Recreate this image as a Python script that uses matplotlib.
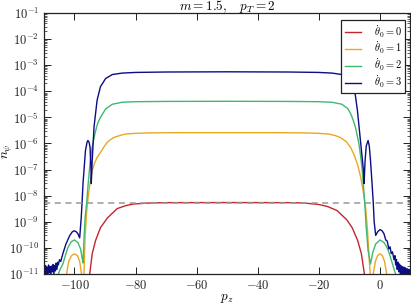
import matplotlib
matplotlib.use("Agg")
import matplotlib.pyplot as plt
from matplotlib.ticker import LogLocator, FixedLocator

plt.rcParams["font.family"] = "serif"
plt.rcParams["font.serif"] = ["cmr10", "DejaVu Serif"]
plt.rcParams["mathtext.fontset"] = "cm"
plt.rcParams["axes.formatter.use_mathtext"] = True
plt.rcParams["font.size"] = 9

# --- data (p_z, n_psi) ---
pz_red = [-95.6, -95.0, -94.2, -93.1, -91.5, -89.2, -86.0, -83.0, -80.6, -75.0, -70.0, -50.0,
          -30.0, -25.0, -20.0, -17.0, -14.0, -10.8, -9.0, -7.2, -6.0, -5.0, -4.4]
n_red = [1e-12, 1e-11, 5.9e-11, 1.9e-10, 5.9e-10, 1.4e-9, 3.2e-9, 4.2e-9, 4.8e-9, 5.25e-9, 5.4e-9, 5.45e-9,
         5.4e-9, 5.25e-9, 4.6e-9, 3.8e-9, 2.7e-9, 1.2e-9, 5.9e-10, 1.9e-10, 6e-11, 1e-11, 1e-12]

pz_orange = [-103.2, -102.6, -101.9, -101.0, -100.0, -99.0, -98.3, -97.7, -97.3,
             -97.1, -96.9, -96.5, -96.0, -95.5, -95.0, -94.2, -93.4, -92.6, -91.5, -90.5, -89.3,
             -88.2, -87.1, -85.0, -83.3, -80.0, -75.0, -65.0, -50.0, -35.0, -25.0, -20.0, -16.7,
             -14.5, -12.9, -11.0, -9.5, -8.3, -7.2, -6.2, -5.4, -4.6, -4.0, -3.5, -3.1, -2.9,
             -2.4, -2.1, -1.4, -0.7, 0.1, 0.9, 1.6, 2.3, 2.7]
n_orange = [1e-13, 1e-11, 3e-11, 5e-11, 5.9e-11, 5e-11, 3e-11, 1e-11, 1e-13,
            1e-13, 1e-11, 3e-10, 2.5e-9, 9e-9, 2.5e-8, 9e-8, 1.8e-7, 2.9e-7, 4.5e-7, 7e-7, 1.1e-6,
            1.4e-6, 1.7e-6, 2.05e-6, 2.3e-6, 2.45e-6, 2.55e-6, 2.6e-6, 2.6e-6, 2.6e-6, 2.55e-6, 2.45e-6, 2.3e-6,
            2.0e-6, 1.7e-6, 1.2e-6, 7e-7, 3.5e-7, 1.5e-7, 5e-8, 1.5e-8, 3.5e-9, 5e-10, 5e-11, 1e-11, 1e-13,
            1e-13, 1e-11, 3e-11, 5e-11, 5.9e-11, 5e-11, 3e-11, 1e-11, 1e-13]

pz_green = [-105.8, -105.3, -104.6, -103.8, -103.0, -102.2, -101.1, -100.0, -98.9, -98.0, -97.5, -97.2,
            -96.9, -96.5, -96.0, -95.5, -94.9, -94.3, -93.2, -92.4, -91.5, -89.8, -87.6, -84.4, -80.0,
            -70.0, -50.0, -30.0, -20.0, -15.6, -12.4, -10.5, -9.5, -8.7, -7.9, -6.8, -6.2, -5.7, -4.9,
            -4.4, -3.8, -3.0, -2.2, -1.3, 0.1, 1.4, 2.3, 3.1, 4.2, 5.2, 5.8]
n_green = [5e-12, 1e-11, 1.6e-11, 2.4e-11, 5e-11, 1e-10, 1.7e-10, 2e-10, 1.6e-10, 9e-11, 4e-11, 2.6e-11,
           2e-10, 1.5e-9, 5.5e-9, 3e-8, 1.8e-7, 6.4e-7, 2.7e-6, 6e-6, 1e-5, 2.1e-5, 3.2e-5, 3.8e-5, 4.0e-5,
           4.1e-5, 4.15e-5, 4.1e-5, 4.0e-5, 3.8e-5, 3.2e-5, 2.2e-5, 1.4e-5, 8e-6, 4e-6, 1e-6, 3e-7, 9e-8, 5.5e-9,
           6e-10, 8e-11, 2.4e-11, 7e-11, 1.4e-10, 2e-10, 1.6e-10, 1.1e-10, 6.4e-11, 2.4e-11, 1e-11, 5e-12]

pz_blue = [-110.0, -109.75, -109.5, -109.25, -109.0, -108.75, -108.5, -108.25, -108.0, -107.75,
           -107.5, -107.25, -107.0, -106.75, -106.5, -106.25, -106.0, -105.75, -105.5,
           -105.3, -104.9, -104.5, -103.8, -102.8, -101.6, -100.8, -100.2, -99.5, -98.9, -98.3,
           -97.8, -97.5, -97.2, -96.9, -96.4, -95.9, -95.6, -95.2, -94.9, -94.6, -94.5, -94.2,
           -93.6, -92.6, -91.5, -89.8, -87.6, -84.4, -80.0, -70.0, -50.0, -30.0, -20.0, -15.6,
           -12.4, -10.2, -8.2, -7.3, -6.2, -5.3, -5.1, -4.8, -4.4, -3.8, -3.4, -3.0, -2.5, -2.1,
           -1.8, -1.3, -0.6, 0.1, 0.8, 1.4, 2.0, 2.5, 3.0, 3.4, 3.8, 4.2, 4.7,
           5.0, 5.25, 5.5, 5.75, 6.0, 6.25, 6.5, 6.75, 7.0, 7.25, 7.5, 7.75, 8.0, 8.25,
           8.5, 8.75, 9.0, 9.25, 9.5, 9.75, 10.0]
n_blue = [1.6e-11, 0.8e-11, 2.1e-11, 1.0e-11, 1.8e-11, 0.7e-11, 2.2e-11, 1.1e-11, 1.9e-11, 0.9e-11,
          2.0e-11, 1.2e-11, 2.3e-11, 1.0e-11, 2.1e-11, 1.3e-11, 2.6e-11, 1.5e-11, 2.8e-11,
          2.2e-11, 3.5e-11, 3.0e-11, 6e-11, 1.4e-10, 2.9e-10, 4e-10, 4.5e-10, 4.2e-10, 3.5e-10, 2.4e-10,
          1.4e-9, 6e-9, 3e-8, 9e-8, 5.4e-7, 1.1e-6, 1.3e-6, 1.1e-6, 7e-7, 1e-7, 2.9e-8, 2.2e-7,
          4.3e-6, 4.5e-5, 1.5e-4, 3.1e-4, 4.4e-4, 5.0e-4, 5.3e-4, 5.5e-4, 5.6e-4, 5.5e-4, 5.3e-4, 5.0e-4,
          4.4e-4, 3.1e-4, 1.1e-4, 1.9e-5, 1e-6, 9e-8, 2.9e-8, 2e-7, 8e-7, 1.3e-6, 8e-7, 2.2e-7, 3e-8, 5.5e-9,
          1e-9, 3e-10, 4.2e-10, 5e-10, 4.5e-10, 3.5e-10, 2.0e-10, 1.8e-10, 0.9e-10, 1.1e-10, 0.6e-10, 0.7e-10, 3.5e-11,
          5e-11, 2.2e-11, 3.6e-11, 1.5e-11, 2.8e-11, 1.2e-11, 2.4e-11, 1.0e-11, 2.1e-11, 0.9e-11, 1.9e-11, 1.0e-11, 1.8e-11, 0.8e-11,
          1.7e-11, 0.9e-11, 1.6e-11, 0.8e-11, 1.5e-11, 0.9e-11, 1.4e-11]

ref_level = 5.4e-9
labels = [r"$\dot\theta_0 = 0$", r"$\dot\theta_0 = 1$", r"$\dot\theta_0 = 2$", r"$\dot\theta_0 = 3$"]
colors = ["#c1272d", "#e8a920", "#3dba6f", "#0c0c85"]

# --- plot ---
fig = plt.figure(figsize=(4.11, 3.04), dpi=100)
ax = fig.add_axes([0.107, 0.099, 0.891, 0.858])

series = [(pz_red, n_red), (pz_orange, n_orange), (pz_green, n_green), (pz_blue, n_blue)]
for (x, y), lab, c in zip(series, labels, colors):
    ax.plot(x, y, color=c, lw=1.0, label=lab)

ax.axhline(ref_level, color="#999999", ls="--", lw=1.1, dashes=(4, 3))

ax.set_yscale("log")
ax.set_xlim(-110, 10)
ax.set_ylim(1e-11, 1e-1)
ax.xaxis.set_major_locator(FixedLocator([-100, -80, -60, -40, -20, 0]))
ax.yaxis.set_major_locator(LogLocator(base=10, numticks=20))
ax.yaxis.set_minor_locator(LogLocator(base=10, subs=range(2, 10), numticks=20))
ax.tick_params(which="both", direction="in", top=True, right=True, colors="#222222")
ax.tick_params(which="major", length=5, width=0.7)
ax.tick_params(which="minor", length=2.5, width=0.5)
ax.tick_params(axis="x", pad=4)
for sp in ax.spines.values():
    sp.set_color("#222222")
    sp.set_linewidth(0.9)

# title placed by baseline just above the axes
fig.text(0.552, 1 - 10.0 / 304, r"$m = 1.5, \quad p_T = 2$", fontsize=9.5,
         ha="center", va="baseline")
ax.set_xlabel(r"$p_z$", fontsize=9.5)
ax.xaxis.set_label_coords(0.5, -0.068)
ax.set_ylabel(r"$n_\psi$", fontsize=9.5)
ax.yaxis.set_label_coords(-0.08, 0.47)

leg = ax.legend(loc="upper right", bbox_to_anchor=(0.986, 0.973), borderaxespad=0,
                fancybox=False, framealpha=1, edgecolor="#222222", fontsize=7.5,
                handlelength=1.6, handletextpad=1.2, labelspacing=0.05, borderpad=0.3)
leg.get_frame().set_linewidth(0.9)

fig.savefig("out.png", dpi=100)
